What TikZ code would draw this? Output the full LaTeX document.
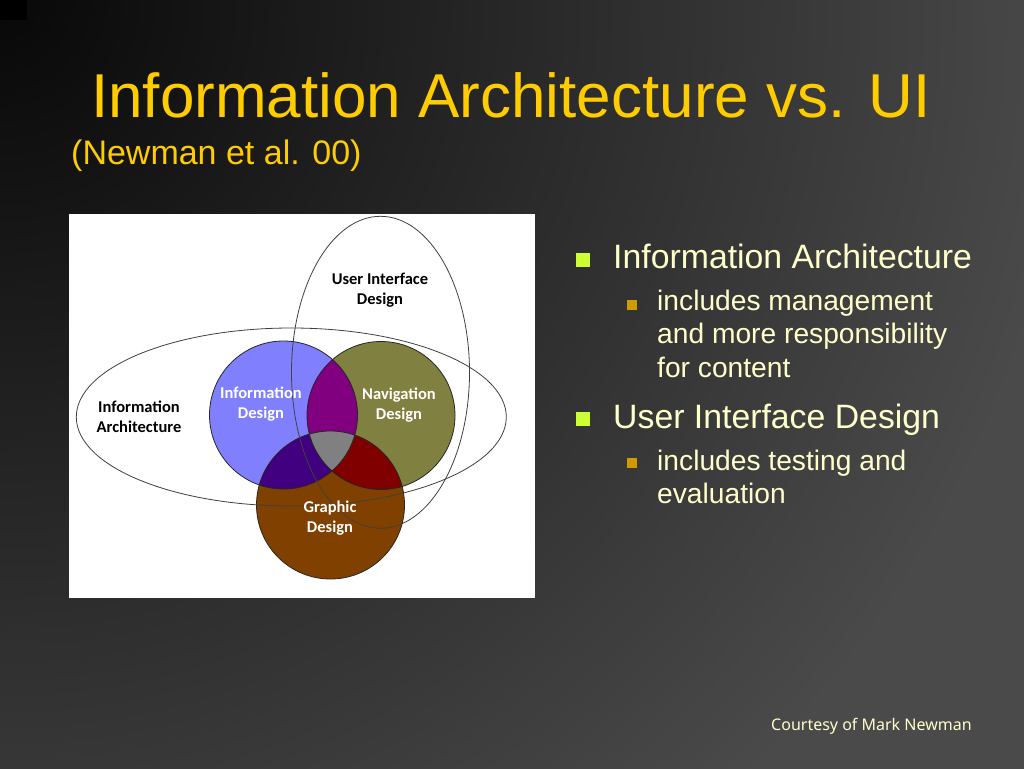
\documentclass[tikz,border=0pt]{standalone}
\usepackage{fontspec}
\setmainfont{Liberation Sans}
\newfontfamily\diagfont{Carlito}
\newfontfamily\notefont{Noto Sans}
\definecolor{bgdark}{HTML}{080808}
\definecolor{bggray}{HTML}{4A4A4A}
\definecolor{titleyellow}{HTML}{FFCC00}
\definecolor{cream}{HTML}{FFFFCC}
\definecolor{limebul}{HTML}{CCFF33}
\definecolor{goldbul}{HTML}{D09A00}
\definecolor{idblue}{HTML}{8080FF}
\definecolor{navgreen}{HTML}{808040}
\definecolor{gbrown}{HTML}{804000}
\definecolor{ovpurple}{HTML}{800080}
\definecolor{ovindigo}{HTML}{400080}
\definecolor{ovred}{HTML}{800000}
\definecolor{ovgray}{HTML}{808080}
\pgfdeclareradialshading{bgshade}{\pgfpoint{0bp}{0bp}}{color(0bp)=(bgdark); color(20bp)=(bggray); color(50bp)=(bggray)}
\begin{document}
\begin{tikzpicture}[x=1pt,y=-1pt,
  circline/.style={draw=black!85, line width=0.8pt},
  ellline/.style={draw=black!75, line width=0.8pt},
  dlabel/.style={align=center, inner sep=0pt, font=\diagfont\bfseries\fontsize{16.5pt}{20.5pt}\selectfont},
  btext/.style={anchor=base west, inner sep=0pt, text=cream, font=\fontsize{33.8pt}{38pt}\selectfont},
  stext/.style={anchor=base west, inner sep=0pt, text=cream, font=\fontsize{28.2pt}{33.5pt}\selectfont},
  bigbul/.style={fill=limebul, minimum size=14pt, inner sep=0pt},
  smallbul/.style={fill=goldbul, minimum size=10pt, inner sep=0pt}
]
\useasboundingbox (0,0) rectangle (1024,768);
% background
\begin{scope}
  \clip (0,0) rectangle (1024,768);
  \shade[shading=bgshade] (0,0) circle (1350pt);
\end{scope}
\fill[black] (0,0) rectangle (27,20);

% title
\node[anchor=base west, inner sep=0pt, text=titleyellow, font=\fontsize{62pt}{70pt}\selectfont] (title) at (91,117) {Information Architecture vs. UI};
\node[anchor=base west, inner sep=0pt, text=titleyellow, font=\fontsize{34pt}{40pt}\selectfont] (subtitle) at (71,164) {(Newman et al. 00)};

% diagram
\fill[white] (69,214) rectangle (535,598);
\coordinate (cb) at (283.5,415);
\coordinate (cg) at (381,415.5);
\coordinate (cr) at (330.5,505);
\fill[idblue] (cb) circle (74pt);
\fill[navgreen] (cg) circle (74pt);
\fill[gbrown] (cr) circle (74pt);
\begin{scope}
  \clip (cg) circle (74pt);
  \fill[ovred] (cr) circle (74pt);
\end{scope}
\begin{scope}
  \clip (cb) circle (74pt);
  \fill[ovpurple] (cg) circle (74pt);
  \fill[ovindigo] (cr) circle (74pt);
  \clip (cg) circle (74pt);
  \fill[ovgray] (cr) circle (74pt);
\end{scope}
\draw[circline] (cb) circle (74pt);
\draw[circline] (cg) circle (74pt);
\draw[circline] (cr) circle (74pt);
\draw[ellline] (291.3,417) ellipse [x radius=215pt, y radius=89pt];
\draw[ellline] (380.5,372.3) ellipse [x radius=89pt, y radius=156pt];

\node[dlabel] (uid) at (380,290) {User Interface\\Design};
\node[dlabel] (ia) at (139,417) {Information\\Architecture};
\node[dlabel, text=white] (idl) at (261,404) {Information\\Design};
\node[dlabel, text=white] (ndl) at (399,405) {Navigation\\Design};
\node[dlabel, text=white] (gdl) at (330,518) {Graphic\\Design};

% bullets
\node[bigbul] (bul1) at (583,260) {};
\node[btext] (b1) at (613,268) {Information Architecture};
\node[smallbul] (sbul1) at (632,304.5) {};
\node[stext] (s1a) at (657,310) {includes management};
\node[stext] (s1b) at (657,343.5) {and more responsibility};
\node[stext] (s1c) at (657,377) {for content};
\node[bigbul] (bul2) at (583,419) {};
\node[btext] (b2) at (613,428) {User Interface Design};
\node[smallbul] (sbul2) at (632,463) {};
\node[stext] (s2a) at (657,470) {includes testing and};
\node[stext] (s2b) at (657,503.5) {evaluation};

\node[anchor=base west, inner sep=0pt, text=cream, font=\notefont\fontsize{16pt}{19pt}\selectfont] (credit) at (771,730) {Courtesy of Mark Newman};
\end{tikzpicture}
\end{document}
